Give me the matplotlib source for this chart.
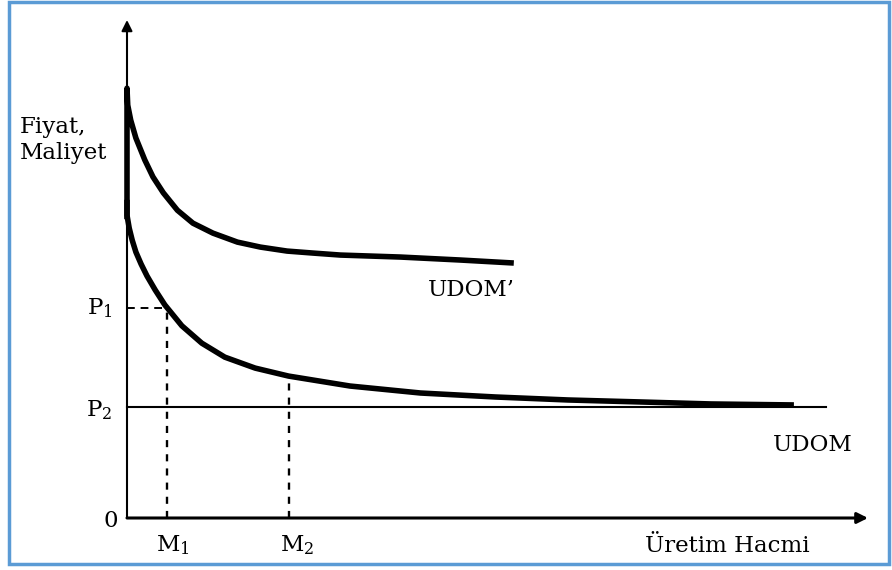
import matplotlib
matplotlib.use("Agg")
import matplotlib.pyplot as plt
from matplotlib.patches import Rectangle

# ---- data (chart units: x axis 0..10, y axis 0..10) ----
# lower average cost curve (UDOM)
udom_x = [0.0, 0.0, 0.03, 0.07, 0.12, 0.19, 0.27, 0.38, 0.51, 0.74, 1.01,
          1.32, 1.73, 2.18, 3.01, 3.96, 4.97, 5.95, 6.93, 7.88, 9.0]
udom_y = [6.39, 6.08, 5.82, 5.58, 5.34, 5.10, 4.86, 4.58, 4.28, 3.86, 3.51,
          3.23, 3.01, 2.85, 2.65, 2.51, 2.43, 2.37, 2.33, 2.29, 2.27]

# upper average cost curve (UDOM')
udom2_x = [0.0, 0.0, 0.01, 0.05, 0.12, 0.24, 0.35, 0.49, 0.68, 0.89, 1.16,
           1.49, 1.80, 2.16, 2.51, 2.88, 3.69, 4.50, 5.22]
udom2_y = [6.0, 8.63, 8.29, 7.99, 7.63, 7.19, 6.85, 6.53, 6.18, 5.92, 5.72,
           5.54, 5.44, 5.36, 5.32, 5.28, 5.24, 5.18, 5.12]

p1 = 4.22
p2 = 2.23
p2_end = 9.43
m1 = 0.54
m2 = 2.18
m2_top = 2.85

plt.rcParams["font.family"] = ["DejaVu Serif"]
plt.rcParams["mathtext.fontset"] = "dejavuserif"

W, H = 892, 570
fig = plt.figure(figsize=(W / 100, H / 100), dpi=100)
ax = fig.add_axes([127 / W, (H - 518) / H, 741 / W, 498 / H])
ax.set_xlim(0, 10)
ax.set_ylim(0, 10)
ax.axis("off")

# axes with arrows
ax.annotate("", xy=(10, 0), xytext=(0, 0), annotation_clip=False,
            arrowprops=dict(arrowstyle="-|>", color="black", lw=2.2,
                            mutation_scale=16, shrinkA=0, shrinkB=0))
ax.annotate("", xy=(0, 10), xytext=(0, 0), annotation_clip=False,
            arrowprops=dict(arrowstyle="-|>", color="black", lw=1.5,
                            mutation_scale=16, shrinkA=0, shrinkB=0))

# curves
ax.plot(udom2_x, udom2_y, color="black", lw=4, solid_capstyle="butt",
        solid_joinstyle="round", clip_on=False)
ax.plot(udom_x, udom_y, color="black", lw=4, solid_capstyle="butt",
        solid_joinstyle="round", clip_on=False)

# P2 line
ax.plot([0, p2_end], [p2, p2], color="black", lw=1.5, clip_on=False)

# dashed guides
ax.plot([0, m1], [p1, p1], color="black", lw=1.4, ls=(0, (4, 3)))
ax.plot([m1, m1], [0, p1], color="black", lw=1.7, ls=(0, (3, 3)))
ax.plot([m2, m2], [0, m2_top], color="black", lw=1.7, ls=(0, (3, 3)))

# labels
fs = 16.5
ax.text(-1.45, 7.59, "Fiyat,\nMaliyet", ha="left", va="center", fontsize=fs,
        linespacing=1.25)
ax.text(-0.2, p1, r"P$_1$", ha="right", va="center", fontsize=fs)
ax.text(-0.2, 2.17, r"P$_2$", ha="right", va="center", fontsize=fs)
ax.text(-0.12, -0.06, "0", ha="right", va="center", fontsize=fs)
ax.text(0.62, -0.54, r"M$_1$", ha="center", va="center", fontsize=fs)
ax.text(2.30, -0.54, r"M$_2$", ha="center", va="center", fontsize=fs)
ax.text(8.1, -0.56, "Üretim Hacmi", ha="center", va="center", fontsize=fs)
ax.text(4.65, 4.58, "UDOM’", ha="center", va="center", fontsize=fs)
ax.text(9.26, 1.47, "UDOM", ha="center", va="center", fontsize=fs)

# blue frame
fig.patches.append(Rectangle((9 / W, (H - 564) / H), 880 / W, 562 / H,
                             transform=fig.transFigure, fill=False,
                             edgecolor="#5b9bd5", lw=2.5))

fig.savefig("out.png", dpi=100)
